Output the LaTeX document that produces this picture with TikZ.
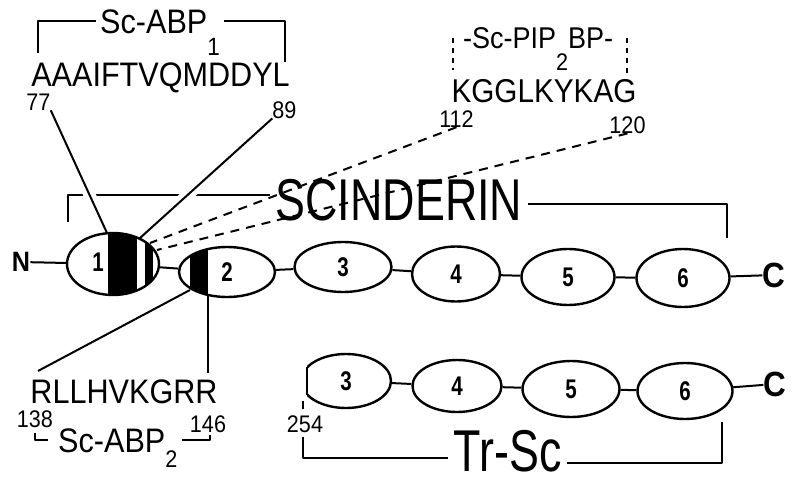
\documentclass[tikz,border=0pt]{standalone}
\usepackage{fontspec}
\usetikzlibrary{shapes.geometric}
\setmainfont[FakeStretch=0.9]{Liberation Sans}
\newfontfamily\condfont[FakeStretch=0.76]{Liberation Sans}
\newcommand\lowsub[3]{\smash{\raisebox{-#1}{\fontsize{#2}{#2}\selectfont #3}}}
\begin{document}
\begin{tikzpicture}[x=1pt, y=-1pt, line join=round,
  link/.style={line width=2pt},
  halo/.style={preaction={draw=white, line width=12pt}},
  pip/.style={line width=2pt, dash pattern=on 9pt off 7pt},
  tick/.style={line width=2pt, dash pattern=on 5pt off 5pt},
  domlbl/.style={inner sep=0pt, font=\condfont\bfseries\fontsize{27}{27}\selectfont},
  dom/.style={domlbl, draw, ellipse, line width=2.4pt},
  seq/.style={inner sep=0pt, anchor=base, font=\fontsize{34}{34}\selectfont},
  num/.style={inner sep=0pt, anchor=base, font=\fontsize{24}{24}\selectfont},
  lbl/.style={inner sep=4pt, anchor=base west, font=\fontsize{34}{34}\selectfont},
  big/.style={inner sep=5pt, anchor=base, font=\condfont\fontsize{59}{59}\selectfont},
  term/.style={inner sep=0pt, font=\bfseries\fontsize{#1}{#1}\selectfont}]
\useasboundingbox (0,0) rectangle (796,482);
% actin binding peptide 1
\node[lbl] (abp1) at (96,33) {Sc-ABP\lowsub{22pt}{25}{1}};
\coordinate (abp1l) at (38,53);
\coordinate (abp1r) at (285,62);
\draw[link] (abp1.west) -| (abp1l);
\draw[link] (abp1.east) -| (abp1r);
\node[seq] (abp1seq) at (160.5,86) {AAAIFTVQMDDYL};
\node[num] (n77) at (38.5,110) {77};
\node[num] (n89) at (284.5,118) {89};
% PIP2 binding peptide
\node[lbl, font=\fontsize{30}{30}\selectfont] (pip) at (459,48) {-Sc-PIP\lowsub{22pt}{24}{2}BP-};
\coordinate (pipl) at (453,70);
\coordinate (pipr) at (627,73);
\draw[tick] (pipl |- pip.west) -- (pipl);
\draw[tick] (pipr |- pip.east) -- (pipr);
\node[seq, font=\fontsize{33}{33}\selectfont] (pipseq) at (544,102) {KGGLKYKAG};
\node[num] (n112) at (456.5,127) {112};
\node[num] (n120) at (627.5,133) {120};
% scinderin
\node[big] (scin) at (399,220) {SCINDERIN};
\coordinate (scl) at (68,222);
\coordinate (scr) at (727,238);
\draw[link] ([yshift=5pt]scin.west) -| (scl);
\draw[link] ([yshift=-4pt]scin.east) -| (scr);
% actin binding peptide 2
\node[seq] (abp2seq) at (124,403) {RLLHVKGRR};
\node[num] (n138) at (35,427) {138};
\node[num] (n146) at (208,432) {146};
\node[lbl] (abp2) at (54,452) {Sc-ABP\lowsub{15pt}{24}{2}};
\coordinate (abp2l) at (35,433);
\coordinate (abp2r) at (210,435);
\draw[link] ([xshift=-6pt]abp2.west) -| (abp2l);
\draw[link] (abp2.east) -| (abp2r);
% truncated scinderin
\node[num] (n254) at (305,432) {254};
\node[big] (trsc) at (507.5,471) {Tr-Sc};
\coordinate (trl) at (303,437);
\coordinate (trr) at (722,422);
\draw[link] ([yshift=-7pt]trsc.west) -| (trl);
\draw[link] ([yshift=-12pt]trsc.east) -| (trr);
% leaders to the domains
\coordinate (e77) at (107,233);
\coordinate (e89) at (140,238);
\coordinate (e112) at (150,243);
\coordinate (e120) at (157,250);
\coordinate (e138) at (190,290);
\coordinate (e146) at (208,296);
\coordinate (s138) at (38,371);
\coordinate (s146) at (208,373);
\draw[link, halo] (n77.south east) -- (e77);
\draw[link, halo] (n89.south west) -- (e89);
\draw[pip] (n112.south) -- (e112);
\draw[pip] (n120.south) -- (e120);
\draw[link] (e138) -- (s138);
\draw[link] (e146) -- (s146);
% domains
\coordinate (c1) at (113,264);
\coordinate (c2) at (227,272);
\begin{scope}
\clip (c1) ellipse [x radius=46, y radius=31];
\fill (108,225) rectangle (137,300);
\fill (145,225) rectangle (153,300);
\end{scope}
\begin{scope}
\clip (c2) ellipse [x radius=48, y radius=25];
\fill (190,240) rectangle (208,300);
\end{scope}
\node[term=28] (nterm) at (21,262) {N};
\node[dom, minimum width=92pt, minimum height=62pt] (d1) at (c1) {};
\node[domlbl] (l1) at (98,262) {1};
\node[dom, minimum width=96pt, minimum height=50pt] (d2) at (c2) {2};
\node[dom, minimum width=97pt, minimum height=50pt] (d3) at (343,267) {3};
\node[dom, minimum width=88pt, minimum height=55pt] (d4) at (456,274) {4};
\node[dom, minimum width=93pt, minimum height=56pt] (d5) at (568,277) {5};
\node[dom, minimum width=93pt, minimum height=58pt] (d6) at (683,278) {6};
\node[term=35] (cterm) at (774,275) {C};
\foreach \a/\b in {nterm/d1, d1/d2, d2/d3, d3/d4, d4/d5, d5/d6, d6/cterm}
  \draw[link] (\a) -- (\b);
\node[dom, draw=none, minimum width=90pt, minimum height=54pt] (t3) at (346,381) {3};
\begin{scope}
\clip (307,340) rectangle (400,420);
\draw[line width=2.4pt] (t3.center) ellipse [x radius=45, y radius=27];
\end{scope}
\draw[line width=2.4pt] (307,367) -- (307,395);
\draw[link, line width=1.5pt] (n254.north) ++(-2,-6) -- ++(0,-8);
\node[dom, minimum width=89pt, minimum height=52pt] (t4) at (457,386) {4};
\node[dom, minimum width=97pt, minimum height=56pt] (t5) at (571,389) {5};
\node[dom, minimum width=95pt, minimum height=56pt] (t6) at (685,391) {6};
\node[term=35] (cterm2) at (775,384) {C};
\foreach \a/\b in {t3/t4, t4/t5, t5/t6, t6/cterm2}
  \draw[link] (\a) -- (\b);
\end{tikzpicture}
\end{document}
